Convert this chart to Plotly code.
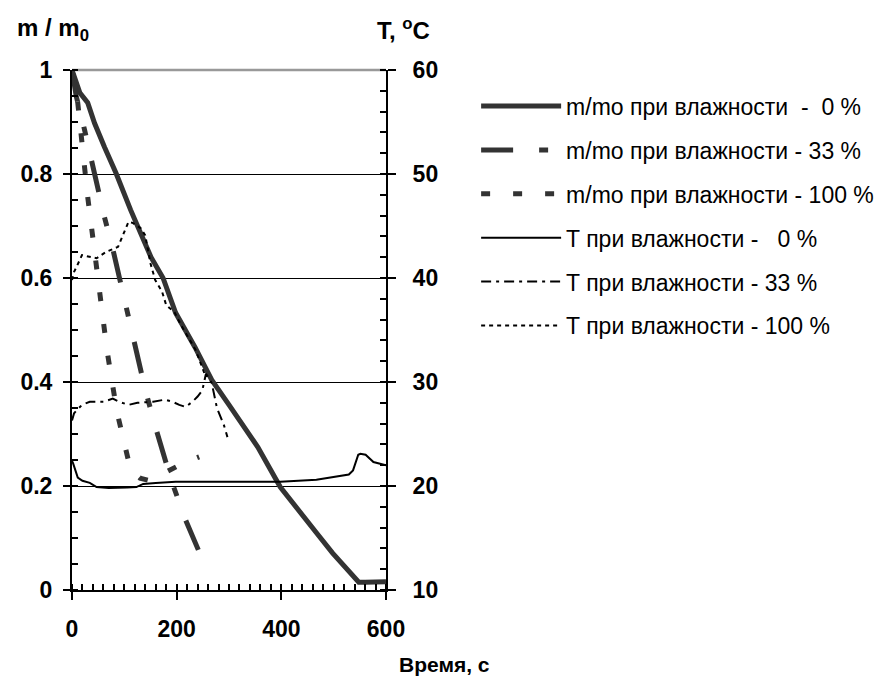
import plotly.graph_objects as go

# ---- data ----
t_m0 = [0, 15, 30, 43, 62, 84, 112, 151, 174, 198, 235, 267, 300, 355, 398, 436, 467, 498, 548, 560, 600]
m0 = [1.0, 0.956, 0.937, 0.898, 0.852, 0.802, 0.731, 0.640, 0.600, 0.533, 0.467, 0.404, 0.356, 0.275, 0.198,
      0.148, 0.110, 0.071, 0.015, 0.015, 0.016]

t_m33 = [0, 8, 24, 42, 62, 77, 86, 103, 121, 140, 161, 168, 190, 217, 235, 252]
m33 = [1.0, 0.95, 0.885, 0.80, 0.717, 0.66, 0.62, 0.552, 0.467, 0.385, 0.308, 0.283, 0.21, 0.135, 0.09, 0.052]

t_m100 = [0, 11, 30, 45, 67, 86, 99, 112, 130, 150, 170, 193, 215, 243]
m100 = [1.0, 0.937, 0.756, 0.64, 0.46, 0.342, 0.283, 0.231, 0.215, 0.21, 0.222, 0.235, 0.245, 0.256]

t_T0 = [0, 2, 11, 20, 34, 47, 70, 86, 105, 123, 136, 160, 198, 260, 330, 398, 467, 500, 529, 537, 542,
        547, 551, 561, 576, 598, 600]
T0 = [22.4, 22.2, 20.8, 20.5, 20.3, 19.9, 19.8, 19.8, 19.85, 19.9, 20.2, 20.3, 20.4, 20.4, 20.4, 20.4, 20.6,
      20.9, 21.1, 21.5, 22.3, 23.0, 23.1, 23.0, 22.3, 22.0, 22.0]

t_T33 = [0, 4, 19, 34, 60, 78, 90, 108, 125, 155, 177, 192, 205, 217, 230, 240, 249, 256, 267, 271, 277, 290, 297]
T33 = [26.3, 27.0, 27.8, 28.1, 28.1, 28.4, 28.1, 27.8, 28.0, 28.1, 28.3, 28.1, 27.8, 27.6, 28.1, 28.6, 29.2,
       30.8, 29.9, 28.9, 27.5, 25.9, 24.7]

t_T100 = [0, 4, 9, 19, 47, 65, 88, 108, 116, 131, 140, 150, 159, 172, 180, 196, 208, 224, 236, 254]
T100 = [39.8, 40.6, 41.1, 42.2, 41.9, 42.5, 43.0, 45.4, 45.3, 44.8, 44.1, 41.4, 39.8, 38.7, 37.4, 36.7, 35.5,
        34.2, 33.1, 30.7]

names = ["m/mo при влажности  -  0 %", "m/mo при влажности - 33 %", "m/mo при влажности - 100 %",
         "T при влажности -   0 %", "T при влажности - 33 %", "T при влажности - 100 %"]

FONT = "Liberation Sans, Arial, sans-serif"
DARK = "#333333"

fig = go.Figure()
fig.add_trace(go.Scatter(x=t_m0, y=m0, mode="lines", name=names[0], legendgroup="a",
                         line=dict(color=DARK, width=5)))
fig.add_trace(go.Scatter(x=t_m33, y=m33, mode="lines", name=names[1], legendgroup="b",
                         line=dict(color=DARK, width=5, dash="32px,26px,9px,26px")))
fig.add_trace(go.Scatter(x=t_m100, y=m100, mode="lines", name=names[2], legendgroup="c",
                         line=dict(color=DARK, width=5, dash="9px,23px")))
fig.add_trace(go.Scatter(x=t_T0, y=T0, mode="lines", name=names[3], legendgroup="d", yaxis="y2",
                         line=dict(color="black", width=2)))
fig.add_trace(go.Scatter(x=t_T33, y=T33, mode="lines", name=names[4], legendgroup="e", yaxis="y2",
                         line=dict(color="black", width=2, dash="10px,5px,3px,5px")))
fig.add_trace(go.Scatter(x=t_T100, y=T100, mode="lines", name=names[5], legendgroup="f", yaxis="y2",
                         line=dict(color="black", width=2, dash="4px,4px")))

tickfont = dict(family=FONT, size=23, color="black", weight="bold")
titlefont = dict(family=FONT, size=24, color="black", weight="bold")

fig.update_layout(
    width=883, height=700,
    margin=dict(l=59, r=503, t=62, b=118),
    paper_bgcolor="white", plot_bgcolor="white",
    font=dict(family=FONT, color="black"),
    showlegend=True,
    legend=dict(x=1.287, y=0.972, xanchor="left", yanchor="top",
                font=dict(family=FONT, size=23, color="black"),
                tracegroupgap=11, itemwidth=80, bgcolor="rgba(0,0,0,0)"),
    xaxis=dict(range=[0, 600], dtick=200, tick0=0, showgrid=False, zeroline=False,
               showline=True, linecolor="black", linewidth=2,
               ticks="outside", ticklen=8, tickwidth=1.5, tickcolor="black",
               minor=dict(dtick=20, ticks="inside", ticklen=6, tickwidth=1.5, tickcolor="black"),
               tickfont=tickfont, ticklabelstandoff=9),
    yaxis=dict(range=[0, 1], dtick=0.2, tick0=0, showgrid=True, gridcolor="black", gridwidth=1,
               zeroline=False, showline=True, linecolor="black", linewidth=2,
               ticks="outside", ticklen=7, tickwidth=1.5, tickcolor="black",
               minor=dict(dtick=0.05, ticks="inside", ticklen=6, tickwidth=1.5, tickcolor="black"),
               tickfont=tickfont, ticklabelstandoff=6),
    yaxis2=dict(range=[10, 60], dtick=10, tick0=10, overlaying="y", side="right", showgrid=False,
                zeroline=False, showline=True, linecolor="black", linewidth=2,
                ticks="outside", ticklen=8, tickwidth=1.5, tickcolor="black",
                minor=dict(dtick=2, ticks="inside", ticklen=6, tickwidth=1.5, tickcolor="black"),
                tickfont=tickfont, ticklabelstandoff=12),
    shapes=[dict(type="line", xref="x domain", yref="y domain", x0=0, x1=1, y0=1, y1=1,
                 line=dict(color="#999999", width=2.5), layer="below")],
    annotations=[
        dict(text="m / m<sub>0</sub>", xref="paper", yref="paper", x=-0.059, y=1.078,
             xanchor="center", yanchor="middle", showarrow=False, font=titlefont),
        dict(text="T, <sup>o</sup>C", xref="paper", yref="paper", x=1.056, y=1.078,
             xanchor="center", yanchor="middle", showarrow=False, font=titlefont),
        dict(text="Время, с", xref="paper", yref="paper", x=1.035, y=-0.144,
             xanchor="left", yanchor="middle", showarrow=False,
             font=dict(family=FONT, size=21, color="black", weight="bold")),
    ],
)

fig.write_html("out.html")
